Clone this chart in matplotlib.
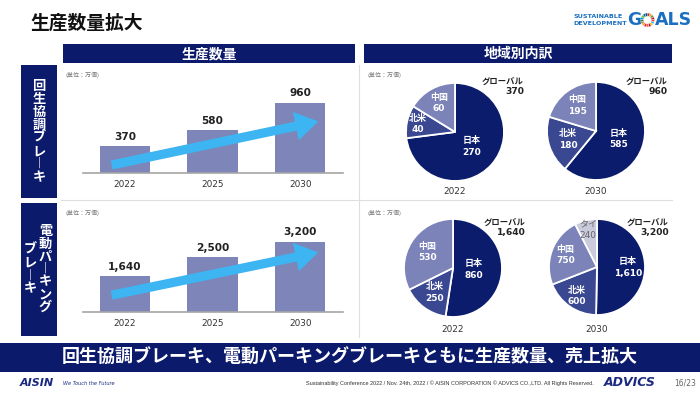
import matplotlib
matplotlib.use('Agg')
import matplotlib.pyplot as plt
from matplotlib.patches import Rectangle
import numpy as np

W, H = 700, 393
JP = ['Noto Sans CJK JP', 'DejaVu Sans']
LAT = ['DejaVu Sans', 'Noto Sans CJK JP']

# ---------------- data ----------------
years = ['2022', '2025', '2030']
regen_volume = [370, 580, 960]
epb_volume = [1640, 2500, 3200]

pie_years = ['2022', '2030']
regen_regions_2022 = ['日本', '北米', '中国']
regen_2022 = [270, 40, 60]
regen_regions_2030 = ['日本', '北米', '中国']
regen_2030 = [585, 180, 195]
epb_regions_2022 = ['日本', '北米', '中国']
epb_2022 = [860, 250, 530]
epb_regions_2030 = ['日本', '北米', '中国', 'タイ']
epb_2030 = [1610, 600, 750, 240]

# ---------------- styles ----------------
NAVY = '#0c1a6b'
BAR = '#7e85b8'
ARROW = '#3db5f2'
REGION_COLORS = {'日本': '#0c1c6c', '北米': '#3a4892', '中国': '#7b83b9', 'タイ': '#c9cbdc'}
REGION_TEXT = {'日本': 'white', '北米': 'white', '中国': 'white', 'タイ': '#666666'}
SDG_COLORS = ['#E5243B', '#DDA63A', '#4C9F38', '#C5192D', '#FF3A21', '#26BDE2',
              '#FCC30B', '#A21942', '#FD6925', '#DD1367', '#FD9D24', '#BF8B2E',
              '#3F7E44', '#0A97D9', '#56C02B', '#00689D', '#19486A']

fig = plt.figure(figsize=(7, 3.93), dpi=100)
fig.patch.set_facecolor('white')

bg = fig.add_axes([0, 0, 1, 1])
bg.set_xlim(0, W)
bg.set_ylim(H, 0)
bg.axis('off')


def rect(x0, y0, x1, y1, color):
    bg.add_patch(Rectangle((x0, y0), x1 - x0, y1 - y0, facecolor=color, edgecolor='none', lw=0))


def pax(x0, y0, x1, y1):
    return fig.add_axes([x0 / W, 1 - y1 / H, (x1 - x0) / W, (y1 - y0) / H])


# title
bg.text(30, 23, '生産数量拡大', family=JP, fontsize=13.5, fontweight='bold', color='#111111',
        ha='left', va='center')

# SDG logo
bg.text(573, 16.5, 'SUSTAINABLE', family=LAT, fontsize=4.6, fontweight='bold', color='#1a6fc0',
        ha='left', va='center')
bg.text(573, 23.5, 'DEVELOPMENT', family=LAT, fontsize=4.6, fontweight='bold', color='#1a6fc0',
        ha='left', va='center')
bg.text(627, 20, 'G', family=LAT, fontsize=12.5, fontweight='bold', color='#1a6fc0',
        ha='left', va='center')
bg.text(655, 20, 'ALS', family=LAT, fontsize=12.5, fontweight='bold', color='#1a6fc0',
        ha='left', va='center')
wax = pax(640.5, 13, 654.5, 27)
wax.pie([1] * len(SDG_COLORS), colors=SDG_COLORS, startangle=90, counterclock=False,
        wedgeprops=dict(width=0.45, edgecolor='white', linewidth=0.2))
wax.set_xlim(-1, 1)
wax.set_ylim(-1, 1)

# header bars
rect(63, 44, 355, 63, NAVY)
rect(364, 44, 672, 63, NAVY)
bg.text(209, 54, '生産数量', family=JP, fontsize=10, fontweight='bold', color='white',
        ha='center', va='center')
bg.text(518, 54, '地域別内訳', family=JP, fontsize=10, fontweight='bold', color='white',
        ha='center', va='center')

# side label boxes
rect(21, 65, 57, 198, NAVY)
rect(21, 203, 57, 336, NAVY)


def vtext(x, yc, s, pitch=13.0):
    n = len(s)
    for i, ch in enumerate(s):
        bg.text(x, yc + (i - (n - 1) / 2) * pitch, ch, family=JP, fontsize=9.5,
                fontweight='bold', color='white', ha='center', va='center')


vtext(39, 131.5, '回生協調ブレ︱キ')
vtext(45.5, 269, '電動パ︱キング', pitch=12.6)
vtext(30.5, 269, 'ブレ︱キ', pitch=12.6)

# panel separators
bg.plot([359, 359], [65, 337], color='#dedede', lw=0.8)
bg.plot([61, 672], [200, 200], color='#dedede', lw=0.8)

# unit labels
for (ux, uy) in [(65, 75), (367, 75), (65, 213), (367, 213)]:
    bg.text(ux, uy, '(単位：万個)', family=JP, fontsize=4.3, color='#777777', ha='left', va='center')


def bar_panel(y_base, values, tail, head):
    ax = pax(83, y_base - 80, 343, y_base)
    x = np.arange(len(years))
    ax.bar(x, values, width=0.58, color=BAR, zorder=1)
    ax.set_xlim(-0.48, 2.49)
    ax.set_ylim(0, max(values) * 1.135)
    for s in ['top', 'right', 'left']:
        ax.spines[s].set_visible(False)
    ax.spines['bottom'].set_color('#a6a6a6')
    ax.spines['bottom'].set_linewidth(1.2)
    ax.set_yticks([])
    ax.set_xticks(x, years)
    ax.tick_params(axis='x', length=0, pad=5, labelsize=6.4, labelcolor='#333333')
    ax.patch.set_alpha(0)
    for xi, v in zip(x, values):
        ax.annotate(f'{v:,}', (xi, v), xytext=(0, 3), textcoords='offset points',
                    ha='center', va='bottom', fontsize=7.6, fontweight='bold',
                    color='#222222', family=LAT)
    ax.annotate('', xy=head, xytext=tail, xycoords='axes fraction',
                arrowprops=dict(arrowstyle='simple,head_length=1.5,head_width=1.9,tail_width=0.6',
                                mutation_scale=11, color=ARROW, shrinkA=0, shrinkB=0, lw=0),
                zorder=3)
    return ax


bar_panel(173, regen_volume, (0.11, 0.10), (0.905, 0.645))
bar_panel(312, epb_volume, (0.11, 0.21), (0.905, 0.745))


def pie_panel(cx, cy, r, labels, values, dists, year, year_y, glob_x, glob_y):
    ax = pax(cx - r, cy - r, cx + r, cy + r)
    wedges, _ = ax.pie(values, colors=[REGION_COLORS[l] for l in labels], startangle=90,
                       counterclock=False, radius=1,
                       wedgeprops=dict(edgecolor='white', linewidth=1.3))
    ax.set_xlim(-1, 1)
    ax.set_ylim(-1, 1)
    for w, lab, v, d in zip(wedges, labels, values, dists):
        ang = np.deg2rad((w.theta1 + w.theta2) / 2)
        bold = lab != 'タイ'
        ax.text(d * np.cos(ang), d * np.sin(ang), f'{lab}\n{v:,}', ha='center', va='center',
                fontsize=6.5, fontweight='bold' if bold else 'normal', color=REGION_TEXT[lab],
                family=LAT, linespacing=1.35, clip_on=False)
    bg.text(cx, year_y, year, family=LAT, fontsize=6.4, color='#333333', ha='center', va='center')
    bg.text(glob_x, glob_y, 'グローバル', family=JP, fontsize=6.0, fontweight='bold',
            color='#222222', ha='right', va='center')
    bg.text(glob_x, glob_y + 11, f'{sum(values):,}', family=LAT, fontsize=6.6, fontweight='bold',
            color='#222222', ha='right', va='center')


pie_panel(455, 132, 49, regen_regions_2022, regen_2022, [0.45, 0.78, 0.68],
          pie_years[0], 192, 524, 81)
pie_panel(596, 131, 49, regen_regions_2030, regen_2030, [0.48, 0.6, 0.65],
          pie_years[1], 192, 668, 81)
pie_panel(453, 268, 49, epb_regions_2022, epb_2022, [0.42, 0.62, 0.62],
          pie_years[0], 330, 526, 222)
pie_panel(597, 267, 48, epb_regions_2030, epb_2030, [0.64, 0.74, 0.7, 0.8],
          pie_years[1], 330, 669, 222)

# bottom banner
rect(0, 343, 700, 372, NAVY)
bg.text(350, 357.5, '回生協調ブレーキ、電動パーキングブレーキともに生産数量、売上拡大', family=JP,
        fontsize=13, fontweight='bold', color='white', ha='center', va='center')

# footer
bg.text(20, 383, 'AISIN', family=LAT, fontsize=8, fontweight='bold', style='italic',
        color='#1b2a80', ha='left', va='center')
bg.text(63, 383.5, 'We Touch the Future', family=LAT, fontsize=3.6, style='italic',
        color='#1b2a80', ha='left', va='center')
bg.text(594, 383.5, 'Sustainability Conference 2022 / Nov. 24th, 2022 / © AISIN CORPORATION © ADVICS CO.,LTD. All Rights Reserved.',
        family=['Liberation Sans Narrow', 'Liberation Sans', 'DejaVu Sans'], fontsize=4.0,
        color='#333333', ha='right', va='center')
bg.text(604, 383, 'ADVICS', family=LAT, fontsize=9, fontweight='bold', style='italic',
        color='#1b2a80', ha='left', va='center')
bg.text(696, 383.5, '16/23', family=LAT, fontsize=5.5, color='#666666', ha='right', va='center')

fig.savefig('out.png', dpi=100, facecolor='white')
